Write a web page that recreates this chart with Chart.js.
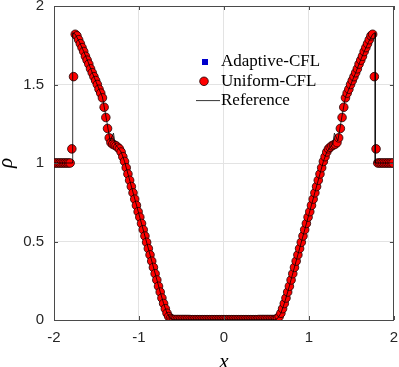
<!DOCTYPE html>
<html>
<head>
<meta charset="utf-8">
<script src="https://cdn.jsdelivr.net/npm/chart.js@4.4.1/dist/chart.umd.min.js"></script>
<style>
  html, body { margin: 0; padding: 0; background: #fff; }
  #rhoChart { display: block; }
</style>
</head>
<body>
<canvas id="rhoChart" width="399" height="367"></canvas>
<script>
// cell-centred mesh: 200 cells on [-2, 2]
const meshStart = -1.99;
const meshStep = 0.02;

// density (Uniform-CFL, Adaptive-CFL sits underneath)
const rho = [
  1, 1, 1, 1, 1, 1, 1, 1, 1, 1,
  1.09, 1.55, 1.82, 1.81, 1.785, 1.76, 1.735, 1.71, 1.68, 1.655,
  1.63, 1.60, 1.575, 1.55, 1.525, 1.50, 1.47, 1.445, 1.415, 1.355,
  1.29, 1.22, 1.16, 1.13, 1.12, 1.115, 1.11, 1.10, 1.09, 1.07,
  1.04, 1.01, 0.97, 0.93, 0.89, 0.85, 0.81, 0.77, 0.73, 0.69,
  0.655, 0.615, 0.575, 0.535, 0.495, 0.455, 0.415, 0.375, 0.335, 0.295,
  0.255, 0.215, 0.178, 0.14, 0.105, 0.072, 0.043, 0.022, 0.01, 0.005,
  0.003, 0.003, 0.003, 0.003, 0.003, 0.003, 0.003, 0.003, 0.003, 0.003,
  0.002, 0.002, 0.002, 0.002, 0.002, 0.002, 0.002, 0.002, 0.002, 0.002,
  0.002, 0.002, 0.002, 0.002, 0.002, 0.002, 0.002, 0.002, 0.002, 0.002,
  0.002, 0.002, 0.002, 0.002, 0.002, 0.002, 0.002, 0.002, 0.002, 0.002,
  0.002, 0.002, 0.002, 0.002, 0.002, 0.002, 0.002, 0.002, 0.002, 0.002,
  0.003, 0.003, 0.003, 0.003, 0.003, 0.003, 0.003, 0.003, 0.003, 0.003,
  0.005, 0.01, 0.022, 0.043, 0.072, 0.105, 0.14, 0.178, 0.215, 0.255,
  0.295, 0.335, 0.375, 0.415, 0.455, 0.495, 0.535, 0.575, 0.615, 0.655,
  0.69, 0.73, 0.77, 0.81, 0.85, 0.89, 0.93, 0.97, 1.01, 1.04,
  1.07, 1.09, 1.10, 1.11, 1.115, 1.12, 1.13, 1.16, 1.22, 1.29,
  1.355, 1.415, 1.445, 1.47, 1.50, 1.525, 1.55, 1.575, 1.60, 1.63,
  1.655, 1.68, 1.71, 1.735, 1.76, 1.785, 1.81, 1.82, 1.55, 1.09,
  1, 1, 1, 1, 1, 1, 1, 1, 1, 1
];

// reference (exact) solution, thin black line
const refX = [
  -2, -1.78, -1.78, -1.75, -1.70, -1.65, -1.60, -1.55, -1.50, -1.45,
  -1.43, -1.38, -1.34, -1.30, -1.28, -1.25, -1.21, -1.17, -0.75, -0.71,
  -0.67, -0.63, -0.60, 0.60, 0.63, 0.67, 0.71, 0.75, 1.17, 1.21,
  1.25, 1.28, 1.30, 1.34, 1.38, 1.43, 1.45, 1.50, 1.55, 1.60,
  1.65, 1.70, 1.75, 1.78, 1.78, 2
];
const refRho = [
  1, 1, 1.83, 1.82, 1.77, 1.71, 1.645, 1.575, 1.51, 1.445,
  1.42, 1.27, 1.14, 1.19, 1.12, 1.10, 1.07, 1.01, 0.178, 0.105,
  0.043, 0.01, 0.002, 0.002, 0.01, 0.043, 0.105, 0.178, 1.01, 1.07,
  1.10, 1.12, 1.19, 1.14, 1.27, 1.42, 1.445, 1.51, 1.575, 1.645,
  1.71, 1.77, 1.82, 1.83, 1, 1
];

const xTicks = [-2, -1, 0, 1, 2];
const yTicks = [0, 0.5, 1, 1.5, 2];
const xTickLabels = ['-2', '-1', '0', '1', '2'];
const yTickLabels = ['0', '0.5', '1', '1.5', '2'];

const axisColor = '#4a4a4a';
const textColor = '#262626';
const gridColor = '#e3e3e3';

const cellX = rho.map((_, i) => +(meshStart + meshStep * i).toFixed(2));
const cellPts = rho.map((r, i) => ({ x: cellX[i], y: r }));
const refPts = refX.map((x, i) => ({ x: x, y: refRho[i] }));

// box on all four sides, inward ticks, and the legend inside the axes
const boxAndLegend = {
  id: 'boxAndLegend',
  afterDraw(chart) {
    const { ctx, chartArea: a, scales } = chart;
    ctx.save();
    ctx.strokeStyle = axisColor;
    ctx.lineWidth = 1;
    ctx.beginPath();
    ctx.moveTo(a.left, Math.round(a.top) + 0.5);
    ctx.lineTo(a.right, Math.round(a.top) + 0.5);
    ctx.moveTo(Math.round(a.right) - 0.5, a.top);
    ctx.lineTo(Math.round(a.right) - 0.5, a.bottom);
    const tl = 4;
    xTicks.forEach(v => {
      const p = Math.round(scales.x.getPixelForValue(v)) + 0.5;
      ctx.moveTo(p, a.bottom); ctx.lineTo(p, a.bottom - tl);
      ctx.moveTo(p, a.top); ctx.lineTo(p, a.top + tl);
    });
    yTicks.forEach(v => {
      const p = Math.round(scales.y.getPixelForValue(v)) + 0.5;
      ctx.moveTo(a.left, p); ctx.lineTo(a.left + tl, p);
      ctx.moveTo(a.right, p); ctx.lineTo(a.right - tl, p);
    });
    ctx.stroke();

    // legend
    const lx = a.left + 151;
    const ly = a.top + 56;
    const row = 19.3;
    ctx.fillStyle = '#0000cc';
    ctx.fillRect(lx - 3, ly - 3, 6, 6);
    ctx.beginPath();
    ctx.arc(lx - 1, ly + row, 4.3, 0, Math.PI * 2);
    ctx.fillStyle = '#ff0000';
    ctx.fill();
    ctx.lineWidth = 0.8;
    ctx.strokeStyle = '#1a0000';
    ctx.stroke();
    ctx.beginPath();
    ctx.lineWidth = 0.8;
    ctx.strokeStyle = '#000';
    ctx.moveTo(lx - 9, ly + 2 * row);
    ctx.lineTo(lx + 15, ly + 2 * row);
    ctx.stroke();
    ctx.fillStyle = '#000';
    ctx.font = '17px "Liberation Serif"';
    ctx.textBaseline = 'middle';
    ctx.fillText('Adaptive-CFL', lx + 16, ly);
    ctx.fillText('Uniform-CFL', lx + 16, ly + row);
    ctx.fillText('Reference', lx + 16, ly + 2 * row);
    ctx.restore();
  }
};

const ctx = document.getElementById('rhoChart').getContext('2d');
const rhoChart = new Chart(ctx, {
  type: 'scatter',
  data: {
    datasets: [
      {
        label: 'Reference',
        data: refPts,
        showLine: true,
        borderColor: '#000',
        borderWidth: 0.8,
        pointRadius: 0,
        fill: false,
        order: 0
      },
      {
        label: 'Uniform-CFL',
        data: cellPts,
        pointStyle: 'circle',
        pointRadius: 4.3,
        backgroundColor: '#ff0000',
        borderColor: '#1a0000',
        borderWidth: 0.8,
        order: 1
      },
      {
        label: 'Adaptive-CFL',
        data: cellPts,
        pointStyle: 'rect',
        pointRadius: 3,
        backgroundColor: '#0000cc',
        borderColor: '#0000cc',
        borderWidth: 0,
        order: 2
      }
    ]
  },
  options: {
    responsive: false,
    animation: false,
    devicePixelRatio: 1,
    layout: { padding: { left: 0, right: 4, top: 6, bottom: 0 } },
    plugins: {
      legend: { display: false },
      tooltip: { enabled: false }
    },
    scales: {
      x: {
        type: 'linear',
        min: -2,
        max: 2,
        afterBuildTicks: s => { s.ticks = xTicks.map(v => ({ value: v })); },
        afterFit: s => { s.height = 47; s.paddingLeft = 0; s.paddingRight = 0; },
        ticks: {
          callback: (v) => xTickLabels[xTicks.indexOf(v)],
          color: textColor,
          font: { family: 'Liberation Sans', size: 15 },
          padding: 9,
          maxRotation: 0
        },
        grid: { color: gridColor, drawTicks: false },
        border: { color: axisColor, width: 1 },
        title: {
          display: true,
          text: 'x',
          color: '#000',
          font: { family: 'Liberation Serif', size: 21, style: 'italic', lineHeight: 0.4 },
          padding: { top: 0, bottom: 0 }
        }
      },
      y: {
        type: 'linear',
        min: 0,
        max: 2,
        afterBuildTicks: s => { s.ticks = yTicks.map(v => ({ value: v })); },
        afterFit: s => { s.width = 54; s.paddingTop = 0; s.paddingBottom = 0; },
        ticks: {
          callback: (v) => yTickLabels[yTicks.indexOf(v)],
          color: textColor,
          font: { family: 'Liberation Sans', size: 15 },
          padding: 10
        },
        grid: { color: gridColor, drawTicks: false },
        border: { color: axisColor, width: 1 },
        title: {
          display: true,
          text: 'ρ',
          color: '#000',
          font: { family: 'Liberation Serif', size: 21, style: 'italic', lineHeight: 1 },
          padding: { top: -4, bottom: 0 }
        }
      }
    }
  },
  plugins: [boxAndLegend]
});
</script>
</body>
</html>
